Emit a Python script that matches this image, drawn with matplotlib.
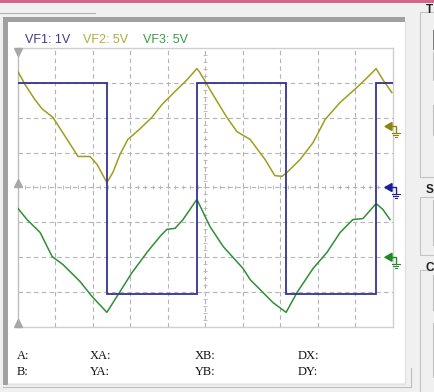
import matplotlib.pyplot as plt
from matplotlib.patches import Rectangle, Polygon

# scope traces, in screen divisions (10 x 8 grid, centre = 0)
vf1_edges = [0, 2.37, 4.77, 7.15, 9.55, 10]
vf1_levels = [3.0, -3.05, 3.0, -3.05, 3.0]

vf2_x = [0, 0.19, 0.45, 0.64, 0.93, 1.31, 1.60, 1.92, 2.11, 2.37, 2.53, 2.72, 2.93, 3.20,
         3.57, 3.84, 4.24, 4.51, 4.77, 4.85, 5.20, 5.57, 5.84, 6.19, 6.59, 6.85, 7.04,
         7.17, 7.52, 7.87, 8.19, 8.59, 9.04, 9.31, 9.55, 9.73, 9.97]
vf2_y = [3.32, 2.95, 2.52, 2.26, 2.01, 1.38, 0.89, 0.89, 0.66, 0.14, 0.43, 0.95, 1.38, 1.63,
         2.01, 2.38, 2.81, 3.09, 3.41, 3.30, 2.66, 2.01, 1.60, 1.38, 0.80, 0.34, 0.32,
         0.43, 0.80, 1.29, 1.95, 2.44, 2.87, 3.15, 3.41, 3.09, 2.72]

vf3_x = [0, 0.24, 0.59, 0.91, 1.20, 1.65, 1.97, 2.37, 2.67, 3.04, 3.44, 3.79, 3.97, 4.19,
         4.40, 4.77, 5.12, 5.47, 6.00, 6.19, 6.80, 7.15, 7.44, 7.87, 8.24, 8.59, 8.93,
         9.20, 9.55, 9.73, 9.92]
vf3_y = [-0.60, -0.92, -1.29, -1.98, -2.21, -2.69, -3.12, -3.58, -3.07, -2.44, -1.86, -1.40,
         -1.20, -1.17, -0.92, -0.34, -1.12, -1.69, -2.32, -2.64, -3.30, -3.58, -3.01, -2.32,
         -1.86, -1.29, -0.92, -0.89, -0.46, -0.63, -0.92]

channels = ["VF1: 1V", "VF2: 5V", "VF3: 5V"]
ch_colors = ["#34348f", "#a39c1c", "#2f8f35"]
text_colors = ["#3c3c8c", "#b3ab3a", "#3d9a4a"]
gnd_colors = ["#1e1e9c", "#8c860e", "#1f8a24"]
ground_levels = [0.0, 1.75, -2.0]
cursor_labels = [["A:", "B:"], ["XA:", "YA:"], ["XB:", "YB:"], ["DX:", "DY:"]]

W, H = 435, 392
fig = plt.figure(figsize=(W / 100, H / 100), dpi=100)
fig.patch.set_facecolor("#f0f0f0")

# window chrome drawn in pixel coordinates
bg = fig.add_axes([0, 0, 1, 1])
bg.set_xlim(0, W)
bg.set_ylim(H, 0)
bg.axis("off")
bg.add_patch(Rectangle((0, 0), W, 2.5, color="#d3668a", lw=0))
bg.plot([0, 95], [13, 13], color="#b4b4b4", lw=0.8)
bg.add_patch(Rectangle((3, 17), 402, 5, color="#a0a0a0", lw=0))
bg.add_patch(Rectangle((3, 17), 5, 368, color="#a0a0a0", lw=0))
bg.add_patch(Rectangle((8, 22), 397, 361, color="white", lw=0))
bg.plot([8, 405, 405], [384, 384, 22], color="#e2e2e2", lw=1)
bg.plot([3, 411, 411], [387, 387, 368], color="#bdbdbd", lw=0.8)
for y0, y1 in [(12, 177), (197, 255), (270, 400)]:
    bg.plot([440, 420, 420, 440], [y0, y0, y1, y1], color="#c4c4c4", lw=0.8)
bg.add_patch(Rectangle((433, 30), 5, 20, color="#7a7a7a", lw=0))
bg.add_patch(Rectangle((433, 52), 5, 28, fc="#f4f4f4", ec="#c0c0c0", lw=0.8))
bg.add_patch(Rectangle((433, 105), 5, 30, fc="#f4f4f4", ec="#c0c0c0", lw=0.8))
bg.plot([433, 433], [200, 245], color="#c0c0c0", lw=0.8)
bg.plot([433, 433], [275, 310], color="#c0c0c0", lw=0.8)
bg.add_patch(Rectangle((433, 323), 5, 54, fc="#f4f4f4", ec="#c0c0c0", lw=0.8))
for lab, y in [("T", 10), ("S", 190), ("C", 268)]:
    bg.text(426, y, lab, fontsize=8.5, fontweight="bold", color="#222222",
            va="center", ha="left", family="Liberation Sans")

# scope screen
ax = fig.add_axes([18 / W, 1 - 327 / H, 375 / W, 279 / H])
ax.set_xlim(0, 10)
ax.set_ylim(-4, 4)
ax.set_facecolor("white")
for s in ax.spines.values():
    s.set_color("#cfcfcf")
    s.set_linewidth(1)
ax.spines["left"].set_color("#bdbdbd")
ax.set_xticks([])
ax.set_yticks([])
for i in range(1, 10):
    ax.axvline(i, color="#b4b4b4", lw=0.8, dashes=(4, 3), zorder=1)
for j in range(-3, 4):
    ax.axhline(j, color="#b4b4b4", lw=0.8, dashes=(4, 3), zorder=1)
minor = [k / 5 for k in range(1, 50)]
ax.plot(minor, [0] * len(minor), ls="none", marker="|", ms=3.5, mew=0.6, color="#b4b4b4", zorder=1)
minor_y = [k / 5 - 4 for k in range(1, 40)]
ax.plot([5] * len(minor_y), minor_y, ls="none", marker="_", ms=3.5, mew=0.6, color="#b4b4b4", zorder=1)

ax.plot(vf2_x, vf2_y, color=ch_colors[1], lw=1.1, zorder=3)
ax.plot(vf3_x, vf3_y, color=ch_colors[2], lw=1.1, zorder=3)
ax.stairs(vf1_levels, vf1_edges, baseline=None, color=ch_colors[0], lw=1.3, zorder=4)

# position markers on the left edge
for yy, mk in [(4, "v"), (0, "^"), (-4, "^")]:
    ax.plot(0, yy + (-0.12 if mk == "v" else 0.12), marker=mk, ms=6, color="#a8a8a8",
            clip_on=False, zorder=5)

# ground markers on the right
dx, dy = 1 / 37.5, 1 / 34.9
for col, g in zip(gnd_colors, ground_levels):
    tip = 10 - 8 * dx
    ax.add_patch(Polygon([(tip, g), (tip + 7 * dx, g + 4 * dy), (tip + 7 * dx, g - 4 * dy)],
                         closed=True, color=col, clip_on=False, zorder=6))
    ax.plot([tip + 6 * dx, tip + 11 * dx, tip + 11 * dx], [g, g, g - 7 * dy],
            color=col, lw=1, clip_on=False, zorder=6)
    for k, hw in enumerate([4, 2.5, 1]):
        ax.plot([tip + (11 - hw) * dx, tip + (11 + hw) * dx], [g - (7 + 2 * k) * dy] * 2,
                color=col, lw=0.8, clip_on=False, zorder=6)

# channel labels
for lab, c, x in zip(channels, text_colors, [25, 83, 143]):
    bg.text(x, 40, lab, color=c, fontsize=9, family="Liberation Sans", va="center", ha="left")

# cursor readouts
for col, x in zip(cursor_labels, [17, 90, 195, 298]):
    for lab, y in zip(col, [356, 372]):
        bg.text(x, y, lab, fontsize=9, family="Liberation Serif", color="#111111",
                va="center", ha="left")

fig.savefig("out.png", dpi=100, facecolor=fig.get_facecolor())
